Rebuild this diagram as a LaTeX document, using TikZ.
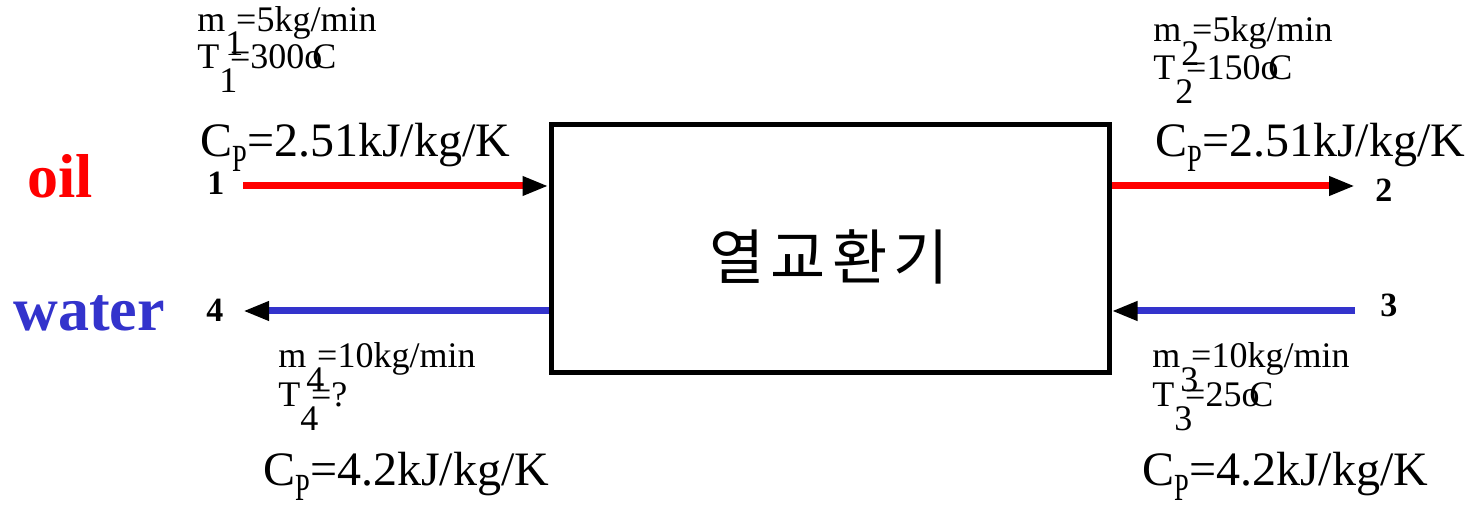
\documentclass[tikz,border=0pt]{standalone}
\usepackage{fontspec}
\setmainfont{Liberation Serif}
\newfontfamily\krfont{Noto Sans CJK KR}
\usetikzlibrary{arrows.meta}
\definecolor{oilred}{RGB}{255,0,0}
\definecolor{waterblue}{RGB}{51,51,204}
\newcommand\lsub[1]{\makebox[0.3em][l]{\raisebox{-0.65em}{#1}}}
\newcommand\degc{\makebox[0.22em][l]{o}C}
\newcommand\cpsub{C\raisebox{-0.3em}{\scalebox{0.55}[0.8]{P}}}
\begin{document}
\begin{tikzpicture}[x=0.5pt,y=-0.5pt,
  hxbox/.style={draw, line width=2.5pt, minimum width=279pt, minimum height=124pt, inner sep=0},
  oilflow/.style={draw=oilred, line width=3.5pt, -{Triangle[length=13pt,width=9pt,black]}},
  waterflow/.style={draw=waterblue, line width=3.5pt, -{Triangle[length=13pt,width=9pt,black]}},
  cptext/.style={font=\fontsize{24}{28}\selectfont, anchor=base west, inner sep=0},
  smalltext/.style={font=\fontsize{18}{20}\selectfont, anchor=base west, inner sep=0},
  numlab/.style={font=\bfseries\fontsize{17}{19}\selectfont, anchor=base west, inner sep=0},
  fluid/.style={font=\bfseries\fontsize{31}{34}\selectfont, anchor=base west, inner sep=0}]
\useasboundingbox (0,0) rectangle (1472,506);
% heat exchanger
\node[hxbox] (hx) at (830,249) {};
\node[font=\krfont\fontsize{30}{33}\selectfont, anchor=base, inner sep=0] (hxlabel) at (829,280) {열\kern3pt 교\kern3pt 환\kern3pt 기};
% flows
\coordinate (in1) at (243,186);
\coordinate (out2) at (1355,186);
\coordinate (in3) at (1355,311);
\coordinate (out4) at (243,311);
\draw[oilflow] (in1) -- (in1 -| hx.west);
\draw[oilflow] (hx.east |- out2) -- (out2);
\draw[waterflow] (in3) -- (in3 -| hx.east);
\draw[waterflow] (hx.west |- out4) -- (out4);
% fluid names
\node[fluid, text=oilred] (oil) at (27,198) {oil};
\node[fluid, text=waterblue] (water) at (13,331) {water};
% state numbers
\node[numlab] (n1) at (207,195) {1};
\node[numlab] (n2) at (1375,202) {2};
\node[numlab] (n3) at (1380,317) {3};
\node[numlab] (n4) at (206,322) {4};
% specific heats
\node[cptext] (cp1) at (200,157) {\cpsub=2.51kJ/kg/K};
\node[cptext] (cp2) at (1155,157) {\cpsub=2.51kJ/kg/K};
\node[cptext] (cp4) at (263,486) {\cpsub=4.2kJ/kg/K};
\node[cptext] (cp3) at (1142,486) {\cpsub=4.2kJ/kg/K};
% state data
\node[smalltext] (m1) at (197,32) {m\lsub{1}=5kg/min};
\node[smalltext] (t1) at (197,69) {T\lsub{1}=300\degc};
\node[smalltext] (m2) at (1153,42) {m\lsub{2}=5kg/min};
\node[smalltext] (t2) at (1153,80) {T\lsub{2}=150\degc};
\node[smalltext] (m4) at (278,368) {m\lsub{4}=10kg/min};
\node[smalltext] (t4) at (278,407) {T\lsub{4}=?};
\node[smalltext] (m3) at (1152,368) {m\lsub{3}=10kg/min};
\node[smalltext] (t3) at (1152,407) {T\lsub{3}=25\degc};
\end{tikzpicture}
\end{document}
